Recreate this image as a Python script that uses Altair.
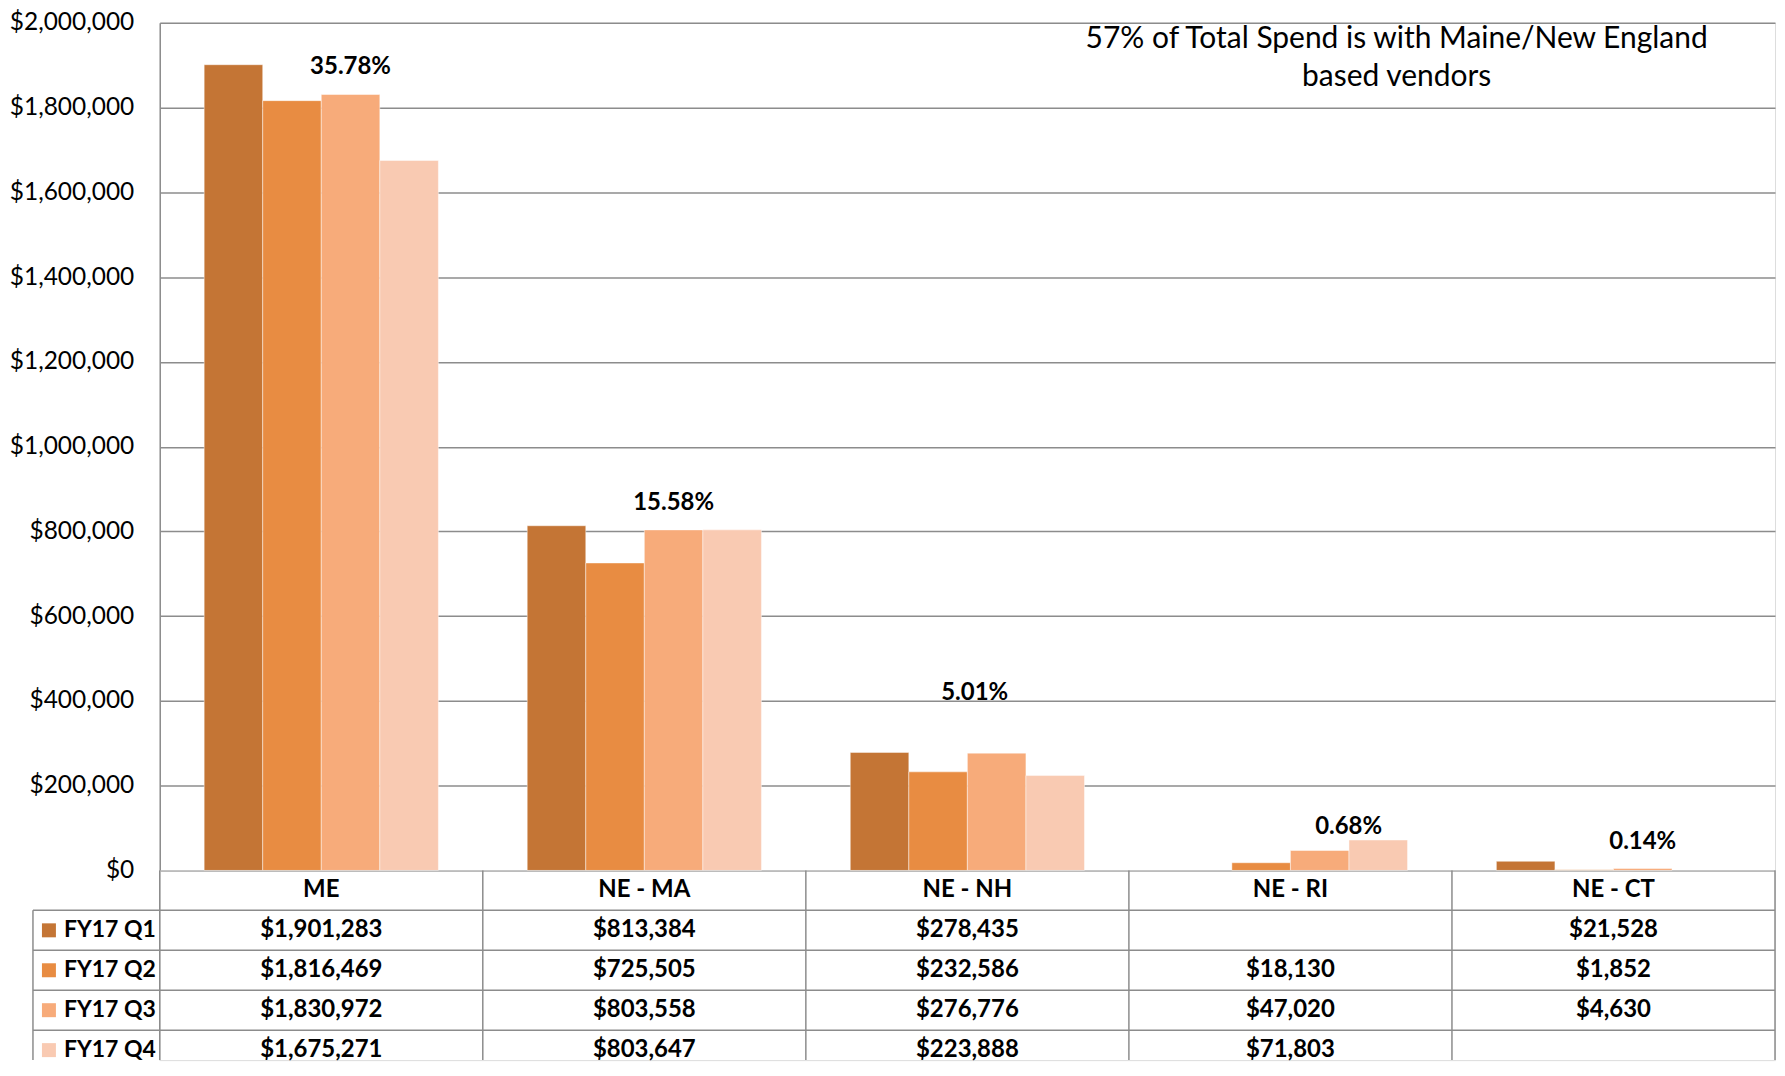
import altair as alt
import pandas as pd

# ---------------- data ----------------
categories = ["ME", "NE - MA", "NE - NH", "NE - RI", "NE - CT"]
series = ["FY17 Q1", "FY17 Q2", "FY17 Q3", "FY17 Q4"]
q1 = [1901283, 813384, 278435, None, 21528]
q2 = [1816469, 725505, 232586, 18130, 1852]
q3 = [1830972, 803558, 276776, 47020, 4630]
q4 = [1675271, 803647, 223888, 71803, None]
share_labels = ["35.78%", "15.58%", "5.01%", "0.68%", "0.14%"]
share_label_y = [1895000, 867000, 419000, 103000, 66000]
annotation = ["57% of Total Spend is with Maine/New England", "based vendors"]
y_ticks = [0, 200000, 400000, 600000, 800000, 1000000, 1200000, 1400000,
           1600000, 1800000, 2000000]

# ---------------- style ----------------
colors = ["#C47535", "#E88C42", "#F7AB7A", "#F9CAB2"]
FONT = "Lato"
FS = 24
AXIS_FS = 24.5
ANN_FS = 30
GRID = "#8c8c8c"
W = 1618
H = 849
ROW_H = 40
T_RANGE = ROW_H * 5
T_H = 190
LEG_LEFT = -127
label_nudge = {"NE - NH": -22, "NE - RI": 29}

long = []
for s, vals in zip(series, [q1, q2, q3, q4]):
    for c, v in zip(categories, vals):
        if v is not None:
            long.append({"region": c, "series": s, "value": v})
df = pd.DataFrame(long)

color_enc = alt.Color("series:N", scale=alt.Scale(domain=series, range=colors), legend=None)

x_top = alt.X("region:N", sort=categories,
              scale=alt.Scale(domain=categories, paddingInner=0.275, paddingOuter=0.1375),
              axis=None)
xoff = alt.XOffset("series:N", sort=series,
                   scale=alt.Scale(domain=series, paddingInner=0, paddingOuter=0))

bars = alt.Chart(df).mark_bar(stroke="#ffffff", strokeWidth=1, strokeOpacity=0.45).encode(
    x=x_top,
    xOffset=xoff,
    y=alt.Y("value:Q", title=None,
            scale=alt.Scale(domain=[0, 2000000], nice=False),
            axis=alt.Axis(values=y_ticks, format="$,.0f", grid=True, gridColor=GRID,
                          gridWidth=1.5, domainColor=GRID, domainWidth=1.5, ticks=False,
                          labelFont=FONT, labelFontSize=AXIS_FS, labelColor="#000000",
                          labelPadding=26, minExtent=142, maxExtent=142)),
    color=color_enc,
)

layers = [bars]
for c, lab, yv in zip(categories, share_labels, share_label_y):
    d = pd.DataFrame({"region": [c], "series": ["FY17 Q3"], "label": [lab], "y": [yv]})
    layers.append(
        alt.Chart(d).mark_text(font=FONT, fontSize=FS, fontWeight="bold", color="#000000",
                               baseline="middle", dx=label_nudge.get(c, 0)).encode(
            x=x_top, xOffset=xoff, y=alt.Y("y:Q"), text="label:N")
    )

ann = alt.Chart(pd.DataFrame({"a": [0]})).mark_text(
    font=FONT, fontSize=ANN_FS, color="#000000", baseline="middle", align="center",
    lineHeight=38).encode(
    x=alt.value(1239), y=alt.value(16), text=alt.value(annotation))
layers.append(ann)

top = alt.layer(*layers).properties(width=W, height=H)

# ---------------- data table ----------------
rows = ["hdr"] + series
tab_y_scale = alt.Scale(type="band", domain=rows, range=[0, T_RANGE],
                        paddingInner=0, paddingOuter=0)
x_tab = alt.X("region:N", scale=alt.Scale(type="band", domain=categories,
                                           paddingInner=0, paddingOuter=0), axis=None)
y_tab = alt.Y("row:N", scale=tab_y_scale, axis=None)

df_hdr = pd.DataFrame({"region": categories, "row": ["hdr"] * len(categories)})
hdr = alt.Chart(df_hdr).mark_text(font=FONT, fontSize=FS, fontWeight="bold",
                                  color="#000000", baseline="middle").encode(
    x=x_tab, y=y_tab, text="region:N")

df_cells = df.rename(columns={"series": "row"})
cells = alt.Chart(df_cells).mark_text(font=FONT, fontSize=FS, fontWeight="bold",
                                      color="#000000", baseline="middle").encode(
    x=x_tab, y=y_tab, text=alt.Text("value:Q", format="$,.0f"))

df_leg = pd.DataFrame({"row": series, "series": series})
swatch = alt.Chart(df_leg).mark_square(size=196, opacity=1).encode(
    x=alt.value(LEG_LEFT + 16), y=y_tab,
    color=alt.Color("series:N", scale=alt.Scale(domain=series, range=colors), legend=None))
leg_text = alt.Chart(df_leg).mark_text(font=FONT, fontSize=23, fontWeight="bold",
                                       color="#000000", baseline="middle", align="left").encode(
    x=alt.value(-96), y=y_tab, text="row:N")

rule_style = dict(color=GRID, strokeWidth=1.5)
y_edge = alt.Y("row:N", bandPosition=0, scale=tab_y_scale, axis=None)
x_edge = alt.X("region:N", bandPosition=0,
               scale=alt.Scale(type="band", domain=categories, paddingInner=0, paddingOuter=0),
               axis=None)

hlines = alt.Chart(pd.DataFrame({"row": series})).mark_rule(**rule_style).encode(
    x=alt.value(LEG_LEFT), x2=alt.value(W), y=y_edge)
vlines = alt.Chart(pd.DataFrame({"region": categories})).mark_rule(**rule_style).encode(
    x=x_edge, y=alt.value(0), y2=alt.value(T_H))
vright = alt.Chart(pd.DataFrame({"a": [0]})).mark_rule(**rule_style).encode(
    x=alt.value(W), y=alt.value(0), y2=alt.value(T_H))
vleft = alt.Chart(pd.DataFrame({"row": [series[0]]})).mark_rule(**rule_style).encode(
    x=alt.value(LEG_LEFT), y=y_edge, y2=alt.value(T_H))

table = alt.layer(hlines, vlines, vright, vleft, swatch, leg_text, hdr, cells).properties(
    width=W, height=T_H)

chart = alt.vconcat(top, table, spacing=0, bounds="flush").resolve_scale(
    x="independent", y="independent", color="independent"
).properties(
    padding={"left": 0, "top": 0, "right": 0, "bottom": 0}
).configure_view(stroke=None).configure(background="#ffffff")

chart.save("out.html", embed_options={"renderer": "svg", "actions": False})
